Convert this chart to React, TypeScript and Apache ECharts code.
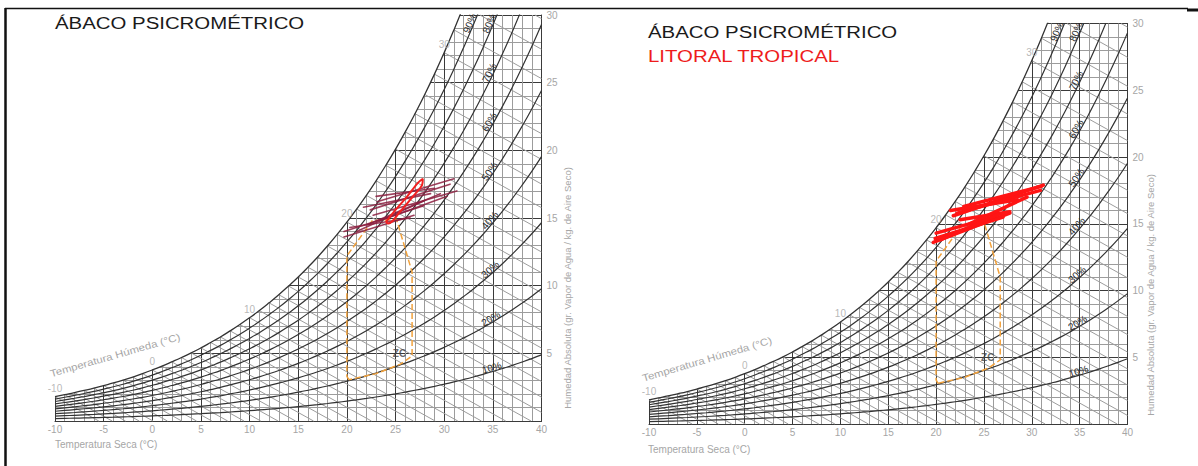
import React, { useEffect, useRef } from "react";
import * as echarts from "echarts";

// Saturation humidity (g/kg dry air) per dry-bulb temperature
const SAT_T = [-10,-9,-8,-7,-6,-5,-4,-3,-2,-1,0,1,2,3,4,5,6,7,8,9,10,11,12,13,14,15,16,17,18,19,20,21,22,23,24,25,26,27,28,29,30,31,32,33,34,35,36,37,38,39,40];
const SAT_W = [1.80,1.95,2.10,2.26,2.43,2.62,2.81,3.02,3.25,3.50,3.77,4.06,4.37,4.69,5.03,5.40,5.80,6.21,6.66,7.13,7.63,8.16,8.73,9.33,9.97,10.64,11.36,12.12,12.93,13.79,14.70,15.66,16.67,17.75,18.89,20.09,21.36,22.71,24.13,25.63,27.22,28.90,30.67,32.53,34.50,36.58,38.78,41.10,43.55,46.12,48.83];

const RH_LEVELS = [10, 20, 30, 40, 50, 60, 70, 80, 90];
const RH_LABEL_T = [35, 35, 35, 35, 35, 35, 35, 35, 33];

const WET_BULB_T = [-10,-9,-8,-7,-6,-5,-4,-3,-2,-1,0,1,2,3,4,5,6,7,8,9,10,11,12,13,14,15,16,17,18,19,20,21,22,23,24,25,26,27,28,29,30,31,32,33];
const WET_BULB_LABELS = [-10, 0, 10, 20, 30];
const WET_BULB_SLOPE = 0.4; // g/kg lost per °C along a wet-bulb line

// Comfort zone (ZC) outline
const COMFORT_T = [20.2, 20.0, 20.0, 22.6, 25.1, 26.7, 26.7, 25.5, 23.0, 20.2];
const COMFORT_W = [3.05, 3.3, 12.2, 14.8, 14.9, 11.0, 4.8, 4.2, 3.5, 3.05];
const ZC_POS = [25.4, 5.0];

// Left panel: monthly climate lines [T1, W1, T2, W2]
const LEFT_SEGMENTS = [
  [19.7, 13.6, 26.9, 15.2],
  [19.7, 14.0, 27.9, 15.9],
  [22.1, 14.5, 29.6, 16.8],
  [22.4, 15.6, 30.6, 17.5],
  [23.1, 16.2, 31.0, 17.9],
  [22.7, 15.2, 31.3, 17.0],
  [21.7, 15.8, 28.6, 16.8],
  [23.4, 14.8, 30.3, 16.6],
  [20.3, 14.3, 26.5, 15.0],
  [21.0, 14.0, 28.0, 16.3],
  [23.0, 16.6, 29.0, 17.2],
];
const LEFT_LOOP_T = [24.0, 25.0, 26.2, 27.3, 27.8, 27.7, 26.8, 25.5, 24.3, 24.0];
const LEFT_LOOP_W = [14.7, 15.6, 16.6, 17.6, 17.9, 17.4, 16.6, 15.5, 14.6, 14.7];

// Right panel: litoral tropical lines [T1, W1, T2, W2]
const RIGHT_SEGMENTS = [
  [19.7, 13.6, 27.7, 15.8],
  [19.9, 13.9, 27.0, 15.5],
  [21.8, 15.6, 31.2, 17.9],
  [22.2, 15.8, 30.9, 17.5],
  [22.9, 16.3, 31.0, 17.8],
  [20.0, 14.3, 25.5, 15.4],
  [22.5, 15.3, 27.7, 15.9],
  [21.5, 16.0, 28.5, 16.8],
  [20.5, 13.8, 26.5, 15.7],
  [23.5, 15.0, 29.5, 17.0],
];

const X_TICKS = { min: -10, max: 40, interval: 5 };
const Y_TICKS = { min: 0, max: 30, interval: 5 };

const GRIDS = [
  { left: 55, top: 15, width: 486.5, height: 406 },
  { left: 649, top: 23.5, width: 478.5, height: 400.5 },
];

const FONT = "'Liberation Sans', Arial, sans-serif";
const GRAY_TEXT = "#a6a6a6";
const DARK = "#333333";
const MINOR = "#9c9c9c";

function satAt(t: number) {
  return SAT_W[SAT_T.indexOf(t)];
}

function panelSeries(i: number, segments: number[][], segStyle: any, withLoop: boolean) {
  const axes = { xAxisIndex: i, yAxisIndex: i };
  const series: any[] = [];

  // white mask above the saturation curve
  series.push({
    type: "custom", ...axes, silent: true, z: 2,
    data: [[0, 0]],
    renderItem: (_p: any, api: any) => {
      const pts: number[][] = [];
      pts.push(api.coord([-10.8, SAT_W[0]]));
      SAT_T.forEach((t, k) => { if (t <= 32) pts.push(api.coord([t, SAT_W[k]])); });
      pts.push(api.coord([32, 31.3]));
      pts.push(api.coord([-10.8, 31.3]));
      return { type: "polygon", shape: { points: pts }, style: { fill: "#ffffff" } };
    },
  });

  // wet-bulb lines
  series.push({
    type: "custom", ...axes, silent: true, z: 3,
    data: WET_BULB_T.map((t) => [t, satAt(t)]),
    renderItem: (_p: any, api: any) => {
      const t = api.value(0), w = api.value(1);
      let t0 = t, w0 = w;
      if (w0 > 30) { t0 = t + (w - 30) / WET_BULB_SLOPE; w0 = 30; }
      const t1 = Math.min(40, t + w / WET_BULB_SLOPE);
      const w1 = w - WET_BULB_SLOPE * (t1 - t);
      const a = api.coord([t0, w0]), b = api.coord([t1, w1]);
      return { type: "line", shape: { x1: a[0], y1: a[1], x2: b[0], y2: b[1] }, style: { stroke: MINOR, lineWidth: 1 } };
    },
  });

  // relative humidity curves
  RH_LEVELS.forEach((rh) => {
    series.push({
      type: "line", ...axes, silent: true, z: 4, showSymbol: false, smooth: true,
      data: SAT_T.map((t, k) => [t, (rh / 100) * SAT_W[k]]),
      lineStyle: { color: DARK, width: 1.2 },
    });
  });
  // saturation curve
  series.push({
    type: "line", ...axes, silent: true, z: 4, showSymbol: false, smooth: true,
    data: SAT_T.map((t, k) => [t, SAT_W[k]]),
    lineStyle: { color: DARK, width: 1.3 },
  });

  // comfort zone
  series.push({
    type: "line", ...axes, silent: true, z: 5, showSymbol: false,
    data: COMFORT_T.map((t, k) => [t, COMFORT_W[k]]),
    lineStyle: { color: "#f2a23c", width: 1.5, type: [6, 3] },
  });

  // climate segments
  series.push({
    type: "custom", ...axes, silent: true, z: 6,
    data: segments,
    renderItem: (_p: any, api: any) => {
      const a = api.coord([api.value(0), api.value(1)]);
      const b = api.coord([api.value(2), api.value(3)]);
      return { type: "line", shape: { x1: a[0], y1: a[1], x2: b[0], y2: b[1] }, style: { ...segStyle, lineCap: "round" } };
    },
  });

  if (withLoop) {
    series.push({
      type: "line", ...axes, silent: true, z: 7, showSymbol: false, smooth: 0.3,
      data: LEFT_LOOP_T.map((t, k) => [t, LEFT_LOOP_W[k]]),
      lineStyle: { color: "#f22020", width: 2 },
    });
  }

  // RH labels along their curves
  series.push({
    type: "custom", ...axes, silent: true, z: 8,
    data: RH_LEVELS.map((rh, k) => {
      const t = RH_LABEL_T[k];
      const idx = SAT_T.indexOf(t);
      const w = (rh / 100) * SAT_W[idx];
      const slope = ((rh / 100) * (SAT_W[idx + 1] - SAT_W[idx - 1])) / 2;
      return [t, w, rh, slope];
    }),
    renderItem: (_p: any, api: any) => {
      const t = api.value(0), w = api.value(1), rh = api.value(2), s = api.value(3);
      const p1 = api.coord([t - 0.5, w - s * 0.5]);
      const p2 = api.coord([t + 0.5, w + s * 0.5]);
      const ang = Math.atan2(-(p2[1] - p1[1]), p2[0] - p1[0]);
      const c = api.coord([t, w]);
      const off = 4;
      return {
        type: "text",
        x: c[0] - Math.sin(ang) * off,
        y: c[1] - Math.cos(ang) * off,
        rotation: ang,
        style: { text: rh + "%", fill: "#262626", fontSize: 10, fontFamily: FONT, align: "center", verticalAlign: "middle" },
      };
    },
  });

  // wet-bulb labels
  series.push({
    type: "scatter", ...axes, silent: true, z: 8, symbolSize: 1,
    itemStyle: { color: "transparent" },
    label: { show: true, position: "top", distance: 3, color: GRAY_TEXT, fontSize: 10, fontFamily: FONT, formatter: (p: any) => String(p.value[0]) },
    data: WET_BULB_LABELS.map((t) => [t, satAt(t)]),
  });

  // ZC label
  series.push({
    type: "scatter", ...axes, silent: true, z: 8, symbolSize: 1,
    itemStyle: { color: "transparent" },
    label: { show: true, position: "inside", color: "#444", fontSize: 10, fontWeight: "bold", fontFamily: FONT, formatter: "ZC" },
    data: [ZC_POS],
  });

  return series;
}

function axisPair(i: number) {
  const x = {
    type: "value", gridIndex: i, ...X_TICKS,
    axisLine: { show: true, onZero: false, lineStyle: { color: "#3a3a3a", width: 1 } },
    axisTick: { show: false },
    axisLabel: { color: GRAY_TEXT, fontSize: 10, margin: 3, fontFamily: FONT },
    splitLine: { show: true, lineStyle: { color: "#3a3a3a", width: 1 } },
    minorTick: { show: false, splitNumber: 5 },
    minorSplitLine: { show: true, lineStyle: { color: MINOR, width: 1 } },
  };
  const y = {
    type: "value", gridIndex: i, position: "right", ...Y_TICKS,
    axisLine: { show: true, onZero: false, lineStyle: { color: "#3a3a3a", width: 1 } },
    axisTick: { show: false },
    axisLabel: { color: GRAY_TEXT, fontSize: 10, margin: 5, fontFamily: FONT, showMinLabel: false },
    splitLine: { show: true, lineStyle: { color: "#3a3a3a", width: 1 } },
    minorTick: { show: false, splitNumber: 5 },
    minorSplitLine: { show: true, lineStyle: { color: MINOR, width: 1 } },
  };
  return { x, y };
}

function buildOption() {
  const a0 = axisPair(0), a1 = axisPair(1);
  const gtext = (text: string, x: number, y: number, extra: any = {}, style: any = {}) => ({
    type: "text", x, y, z: 100, silent: true, ...extra,
    style: { text, fontFamily: FONT, fontSize: 10, fill: GRAY_TEXT, align: "left", verticalAlign: "middle", ...style },
  });
  const graphic: any[] = [
    { type: "line", z: 100, silent: true, shape: { x1: 5, y1: 8.5, x2: 1188, y2: 8.5 }, style: { stroke: "#111", lineWidth: 1.5 } },
    { type: "line", z: 100, silent: true, shape: { x1: 5.5, y1: 8, x2: 5.5, y2: 466 }, style: { stroke: "#111", lineWidth: 2.5 } },
    { type: "line", z: 100, silent: true, shape: { x1: 1187, y1: 10, x2: 1198, y2: 10 }, style: { stroke: "#111", lineWidth: 3 } },
    gtext("ÁBACO PSICROMÉTRICO", 55, 23.5, { scaleX: 1.2 }, { fontSize: 17, fill: "#1a1a1a" }),
    gtext("ÁBACO PSICROMÉTRICO", 648, 32.5, { scaleX: 1.2 }, { fontSize: 17, fill: "#1a1a1a" }),
    gtext("LITORAL TROPICAL", 648, 56, { scaleX: 1.2 }, { fontSize: 17, fill: "#ee1c1c" }),
    gtext("Temperatura Seca (°C)", 55, 444, {}, { fontSize: 10 }),
    gtext("Temperatura Seca (°C)", 648, 449, {}, { fontSize: 10 }),
    gtext("Temperatura Húmeda (°C)", 115, 355, { rotation: (16 * Math.PI) / 180, scaleX: 1.15 }, { fontSize: 10, align: "center" }),
    gtext("Temperatura Húmeda (°C)", 707, 359, { rotation: (16.5 * Math.PI) / 180, scaleX: 1.15 }, { fontSize: 10, align: "center" }),
    gtext("Humedad Absoluta (gr. Vapor de Agua / kg. de Aire Seco)", 567, 288, { rotation: Math.PI / 2 }, { fontSize: 9.5, align: "center" }),
    gtext("Humedad Absoluta (gr. Vapor de Agua / kg. de Aire Seco)", 1150, 295, { rotation: Math.PI / 2 }, { fontSize: 9.5, align: "center" }),
  ];
  return {
    animation: false,
    backgroundColor: "#ffffff",
    textStyle: { fontFamily: FONT },
    grid: GRIDS.map((g) => ({ ...g, containLabel: false })),
    xAxis: [a0.x, a1.x],
    yAxis: [a0.y, a1.y],
    series: [
      ...panelSeries(0, LEFT_SEGMENTS, { stroke: "#8c1f3f", lineWidth: 1.6, opacity: 0.85 }, true),
      ...panelSeries(1, RIGHT_SEGMENTS, { stroke: "#ff1414", lineWidth: 3.5, opacity: 1 }, false),
    ],
    graphic,
  };
}

export default function App() {
  const ref = useRef<HTMLDivElement>(null);
  useEffect(() => {
    if (!ref.current) return;
    const chart = echarts.init(ref.current, undefined, { renderer: "svg" });
    chart.setOption(buildOption() as any);
    return () => chart.dispose();
  }, []);
  return (
    <div
      ref={ref}
      style={{ position: "fixed", left: 0, top: 0, width: 1198, height: 466, background: "#fff" }}
    />
  );
}
